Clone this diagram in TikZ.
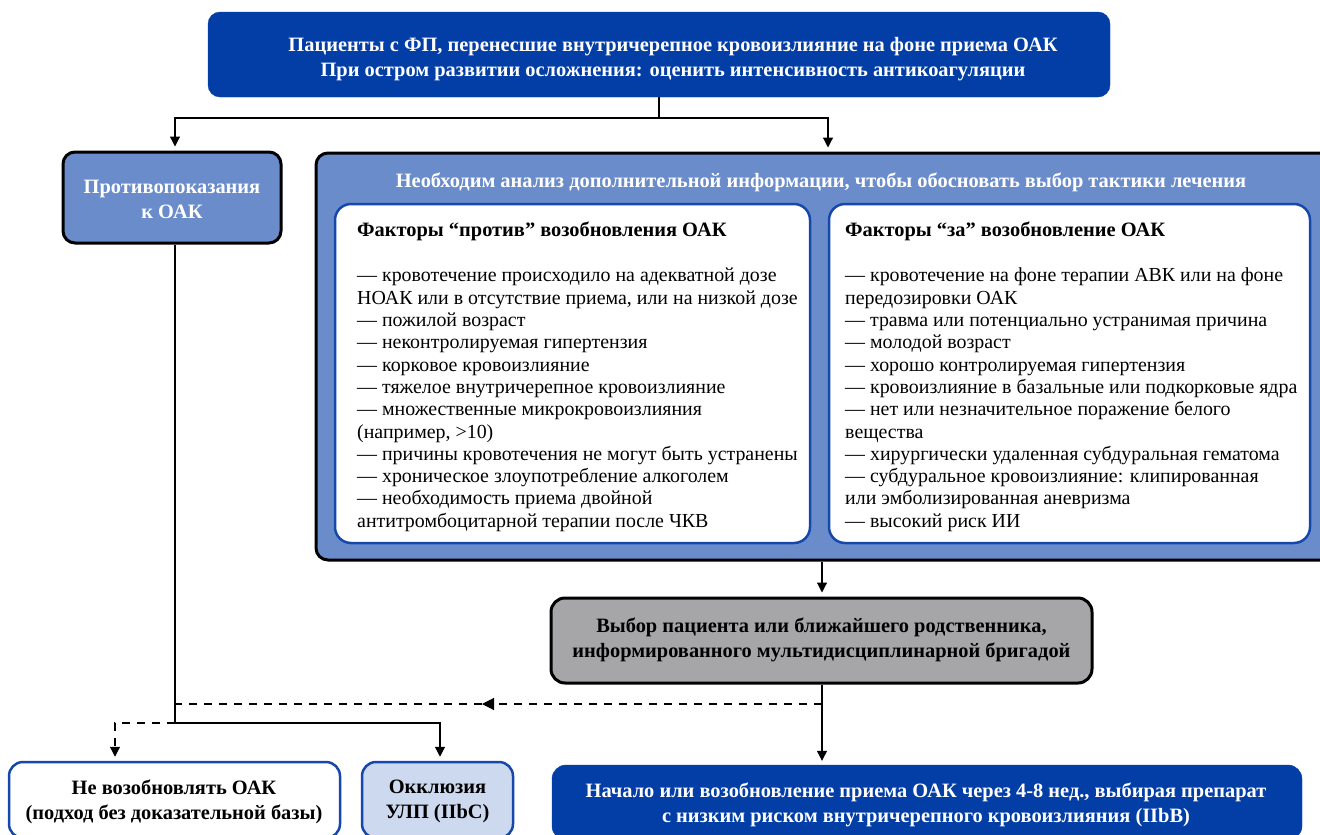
\documentclass[tikz,border=0pt]{standalone}
\usepackage{fontspec}
\setmainfont{Liberation Serif}
\usetikzlibrary{arrows.meta}
\definecolor{dblue}{RGB}{2,62,166}
\definecolor{mblue}{RGB}{106,140,203}
\definecolor{bblue}{RGB}{22,72,172}
\definecolor{lblue}{RGB}{205,217,238}
\definecolor{gbox}{RGB}{166,166,168}
\tikzset{
  txt/.style={font=\fontsize{19.9}{22.3}\selectfont},
  btxt/.style={font=\fontsize{20.4}{25}\selectfont\bfseries, align=center},
  topbox/.style={fill=dblue, draw=dblue, rounded corners=12pt},
  midbox/.style={fill=mblue, draw=black, line width=3pt, rounded corners=12pt},
  graybox/.style={fill=gbox, draw=black, line width=3pt, rounded corners=14pt},
  innerbox/.style={fill=white, draw=bblue, line width=2.5pt, rounded corners=16pt},
  wbox/.style={fill=white, draw=bblue, line width=2.5pt, rounded corners=14pt},
  lbbox/.style={fill=lblue, draw=bblue, line width=2.5pt, rounded corners=14pt},
  dbbox/.style={fill=dblue, draw=dblue, rounded corners=14pt},
  conn/.style={draw=black, line width=1.2pt},
  tip/.style={-{Triangle[length=10pt,width=10pt]}, shorten >=4pt},
  midtip/.style={-{Triangle[length=12pt,width=12pt]}},
  dline/.style={conn, dash pattern=on 8pt off 7pt},
}
\begin{document}
\begin{tikzpicture}[x=1pt,y=-1pt]
\clip (0,0) rectangle (1320,835);
% boxes
\node[topbox, minimum width=902pt, minimum height=85pt] (top) at (659,54.5) {};
\node[btxt, text=white] (topT) at (673,59)
  {Пациенты с ФП, перенесшие внутричерепное кровоизлияние на фоне приема ОАК\\При остром развитии осложнения: оценить интенсивность антикоагуляции};
\node[midbox, minimum width=218pt, minimum height=91pt] (contra) at (172,197.5) {};
\node[btxt, text=white] (contraT) at (172,199) {Противопоказания\\к ОАК};
\node[midbox, minimum width=1024pt, minimum height=407pt] (big) at (828,356.5) {};
\node[btxt, text=white] (hdr) at (821,182)
  {Необходим анализ дополнительной информации, чтобы обосновать выбор тактики лечения};
\node[innerbox, minimum width=475pt, minimum height=339pt] (inL) at (572.5,373.5) {};
\node[innerbox, minimum width=481pt, minimum height=339pt] (inR) at (1069.5,373.5) {};
\node[txt, anchor=north west, inner sep=0pt, align=left] (txL) at (357,221.5)
  {{\fontsize{20.4}{22.3}\selectfont\bfseries Факторы “против” возобновления ОАК}\\[23.3pt]
  — кровотечение происходило на адекватной дозе\\
  НОАК или в отсутствие приема, или на низкой дозе\\
  — пожилой возраст\\
  — неконтролируемая гипертензия\\
  — корковое кровоизлияние\\
  — тяжелое внутричерепное кровоизлияние\\
  — множественные микрокровоизлияния\\
  (например, >10)\\
  — причины кровотечения не могут быть устранены\\
  — хроническое злоупотребление алкоголем\\
  — необходимость приема двойной\\
  антитромбоцитарной терапии после ЧКВ};
\node[txt, anchor=north west, inner sep=0pt, align=left] (txR) at (845,221.5)
  {{\fontsize{20.4}{22.3}\selectfont\bfseries Факторы “за” возобновление ОАК}\\[23.3pt]
  — кровотечение на фоне терапии АВК или на фоне\\
  передозировки ОАК\\
  — травма или потенциально устранимая причина\\
  — молодой возраст\\
  — хорошо контролируемая гипертензия\\
  — кровоизлияние в базальные или подкорковые ядра\\
  — нет или незначительное поражение белого\\
  вещества\\
  — хирургически удаленная субдуральная гематома\\
  — субдуральное кровоизлияние: клипированная\\
  или эмболизированная аневризма\\
  — высокий риск ИИ};
\node[graybox, minimum width=541pt, minimum height=85pt] (choice) at (821.5,640.5) {};
\node[btxt] (choiceT) at (821.5,640)
  {Выбор пациента или ближайшего родственника,\\информированного мультидисциплинарной бригадой};
\node[wbox, minimum width=331pt, minimum height=76pt] (noresume) at (174.5,800) {};
\node[btxt] (noresumeT) at (174,801.5)
  {Не возобновлять ОАК\\(подход без доказательной базы)};
\node[lbbox, minimum width=151pt, minimum height=76pt] (occl) at (437.5,800) {};
\node[btxt] (occlT) at (437.5,801.5) {Окклюзия\\УЛП (IIbC)};
\node[dbbox, minimum width=750pt, minimum height=75pt] (start) at (927,802.5) {};
\node[btxt, text=white] (startT) at (926,805)
  {Начало или возобновление приема ОАК через 4-8 нед., выбирая препарат\\с низким риском внутричерепного кровоизлияния (IIbB)};
% junction coordinates
\coordinate (j1) at (top.south |- 0,118);
\coordinate (jL) at (175,118);
\coordinate (jR) at (828,118);
\coordinate (cL) at (175,243);
\coordinate (g1) at (822,704);
\coordinate (gm) at (482,704);
\coordinate (d1) at (175,704);
\coordinate (s1) at (175,723);
\coordinate (s2) at (440,723);
\coordinate (s3) at (115,723);
% connectors
\draw[conn] (top.south) -- (j1);
\draw[conn, tip] (j1) -- (jL) -- (contra.north -| jL);
\draw[conn, tip] (j1) -- (jR) -- (big.north -| jR);
\draw[conn, tip] (big.south -| 822,0) -- (choice.north -| 822,0);
\draw[conn, tip] (choice.south -| 822,0) -- (start.north -| 822,0);
\draw[dline, midtip] (g1) -- (gm);
\draw[dline] (gm) -- (d1);
\draw[conn] (contra.south -| cL) -- (s1);
\draw[conn, tip] (s1) -- (s2) -- (occl.north -| s2);
\draw[dline, tip] (s1) -- (s3) -- (noresume.north -| s3);
\end{tikzpicture}
\end{document}
